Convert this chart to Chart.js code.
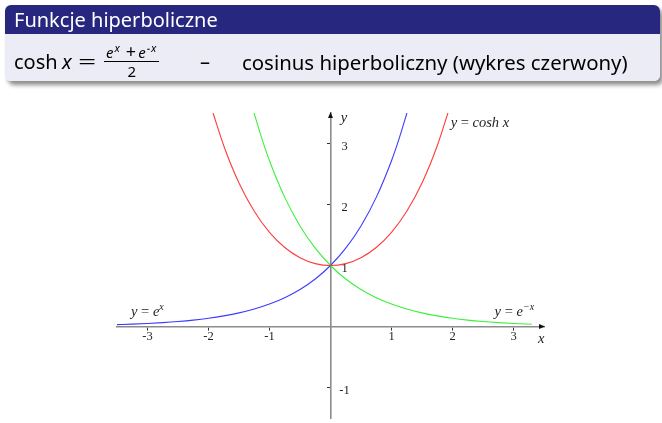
<!DOCTYPE html>
<html>
<head>
<meta charset="utf-8">
<script src="https://cdn.jsdelivr.net/npm/chart.js@4.4.1/dist/chart.umd.min.js"></script>
<style>
  html, body { margin: 0; padding: 0; background: #fff; width: 662px; height: 423px; overflow: hidden; }
  #block { position: absolute; left: 5px; top: 5px; width: 655px; height: 76px; border-radius: 6px;
           box-shadow: 3px 4px 4px rgba(0,0,0,.45); z-index: 2; }
  #title { height: 29px; background: #27277f; color: #fff; border-radius: 6px 6px 0 0;
           font: 20px "Noto Sans"; line-height: 29px; padding-left: 9px; }
  #body { position: relative; height: 47px; background: #ececf6; border-radius: 0 0 6px 6px;
          font: 20px "Noto Sans"; color: #000; }
  #body .t { position: absolute; white-space: nowrap; line-height: 26px; }
  .eq { display: inline-block; transform: scaleX(1.6); transform-origin: left center; }
  .frac { position: absolute; left: 99px; top: 10px; text-align: center; font-size: 15px; line-height: 14px; }
  .frac .num { border-bottom: 1px solid #000; padding: 0 2px 2px 2px; font-style: italic; white-space: nowrap; }
  .frac .plus { font-style: normal; font-size: 18px; margin: 0 2px 0 5px; }
  .frac .den { padding-top: 2px; }
  .frac sup { font-size: 11px; vertical-align: 6px; line-height: 0; margin-left: 1px; letter-spacing: 1px; }
  canvas { position: absolute; left: 0; top: 0; }
</style>
</head>
<body>
<div id="block">
  <div id="title">Funkcje hiperboliczne</div>
  <div id="body">
    <span class="t" style="left:9px;top:15px">cosh</span>
    <span class="t" style="left:57px;top:15px"><i>x</i></span>
    <span class="t" style="left:73px;top:15px"><span class="eq">=</span></span>
    <span class="frac"><div class="num">e<sup>x</sup><span class="plus">+</span>e<sup>−x</sup></div><div class="den">2</div></span>
    <span class="t" style="left:195px;top:15px">–</span>
    <span class="t" style="left:237px;top:15px;font-size:20.4px">cosinus hiperboliczny (wykres czerwony)</span>
  </div>
</div>
<canvas id="chart" width="662" height="423"></canvas>
<script>
// tick values
const xTicks = [-3, -2, -1, 1, 2, 3];
const yTicks = [-1, 1, 2, 3];

// y = e^x (blue)
const expXs = [-3.5, -3.25, -3, -2.75, -2.5, -2.25, -2, -1.75, -1.5, -1.25, -1, -0.75, -0.5, -0.25, 0, 0.25, 0.5, 0.75, 1, 1.125, 1.253];
const expYs = [0.030, 0.039, 0.050, 0.064, 0.082, 0.105, 0.135, 0.174, 0.223, 0.287, 0.368, 0.472, 0.607, 0.779, 1, 1.284, 1.649, 2.117, 2.718, 3.080, 3.5];

// y = e^-x (green)
const expNegXs = [-1.253, -1.125, -1, -0.75, -0.5, -0.25, 0, 0.25, 0.5, 0.75, 1, 1.25, 1.5, 1.75, 2, 2.25, 2.5, 2.75, 3, 3.3];
const expNegYs = [3.5, 3.080, 2.718, 2.117, 1.649, 1.284, 1, 0.779, 0.607, 0.472, 0.368, 0.287, 0.223, 0.174, 0.135, 0.105, 0.082, 0.064, 0.050, 0.037];

// y = cosh x (red)
const coshXs = [-1.925, -1.75, -1.5, -1.25, -1, -0.75, -0.5, -0.25, 0, 0.25, 0.5, 0.75, 1, 1.25, 1.5, 1.75, 1.925];
const coshYs = [3.5, 2.964, 2.352, 1.888, 1.543, 1.295, 1.128, 1.031, 1, 1.031, 1.128, 1.295, 1.543, 1.888, 2.352, 2.964, 3.5];

const pts = (xs, ys) => xs.map((x, i) => ({ x, y: ys[i] }));

// text labels in the plot, anchored in data units
const mathLabels = [
  { x: 1.97, y: 3.34, parts: [['y', 1], [' = '], ['cosh', 1], [' '], ['x', 1]] },
  { x: -3.27, y: 0.24, parts: [['y', 1], [' = '], ['e', 1], ['x', 1, 1]] },
  { x: 2.69, y: 0.24, parts: [['y', 1], [' = '], ['e', 1], ['−x', 1, 1]] },
  { x: 0.17, y: 3.42, parts: [['y', 1]] },
  { x: 3.40, y: -0.21, parts: [['x', 1]] }
];

function drawMath(ctx, parts, px, py) {
  let cx = px;
  const base = py + 4;
  parts.forEach(([t, it, sup]) => {
    const size = sup ? 10 : 14.5;
    ctx.font = (it ? 'italic ' : '') + size + 'px "Liberation Serif"';
    ctx.fillText(t, cx, sup ? base - 6 : base);
    cx += ctx.measureText(t).width;
  });
}

const extras = {
  id: 'extras',
  afterDraw(chart) {
    const { ctx, scales: { x, y } } = chart;
    const x0 = x.getPixelForValue(0), y0 = y.getPixelForValue(0);
    const xr = x.getPixelForValue(x.max), yt = y.getPixelForValue(y.max);
    ctx.save();
    ctx.fillStyle = '#111';
    // arrow heads
    ctx.beginPath();
    ctx.moveTo(xr + 1, y0); ctx.lineTo(xr - 5, y0 - 2.5); ctx.lineTo(xr - 5, y0 + 2.5); ctx.fill();
    ctx.beginPath();
    ctx.moveTo(x0, yt - 1); ctx.lineTo(x0 - 2.5, yt + 5); ctx.lineTo(x0 + 2.5, yt + 5); ctx.fill();
    // y tick labels on the right side of the axis
    ctx.font = '12.5px "Liberation Serif"';
    ctx.textAlign = 'center';
    ctx.textBaseline = 'middle';
    ctx.fillStyle = '#222';
    y.ticks.forEach(t => ctx.fillText(String(t.value), x0 + 14, y.getPixelForValue(t.value) + 3));
    // curve and axis names
    ctx.textAlign = 'left';
    ctx.textBaseline = 'alphabetic';
    mathLabels.forEach(l => drawMath(ctx, l.parts, x.getPixelForValue(l.x), y.getPixelForValue(l.y)));
    ctx.restore();
  }
};

new Chart(document.getElementById('chart'), {
  type: 'line',
  data: {
    datasets: [
      { data: pts(coshXs, coshYs), borderColor: '#ff3c3c' },
      { data: pts(expNegXs, expNegYs), borderColor: '#3cf03c' },
      { data: pts(expXs, expYs), borderColor: '#3c3cff' }
    ]
  },
  options: {
    responsive: false,
    animation: false,
    layout: { padding: { left: 117, right: 118, top: 113, bottom: 5 } },
    plugins: { legend: { display: false }, tooltip: { enabled: false } },
    elements: {
      point: { radius: 0 },
      line: { borderWidth: 1.1, cubicInterpolationMode: 'monotone', fill: false }
    },
    scales: {
      x: {
        type: 'linear', min: -3.5, max: 3.5, position: { y: 0 },
        afterBuildTicks: s => { s.ticks = xTicks.map(v => ({ value: v })); },
        afterFit: s => { s.height = 0; },
        grid: { drawOnChartArea: false, tickLength: 3, color: '#333' },
        border: { color: '#8c8c8c', width: 1.6 },
        ticks: { padding: 0, color: '#222', font: { family: 'Liberation Serif', size: 12.5 }, callback: v => String(v) }
      },
      y: {
        type: 'linear', min: -1.5, max: 3.5, position: { x: 0 },
        afterBuildTicks: s => { s.ticks = yTicks.map(v => ({ value: v })); },
        afterFit: s => { s.width = 0; },
        grid: { drawOnChartArea: false, tickLength: 3, color: '#333' },
        border: { color: '#8c8c8c', width: 1.6 },
        ticks: { display: false }
      }
    }
  },
  plugins: [extras]
});
</script>
</body>
</html>
